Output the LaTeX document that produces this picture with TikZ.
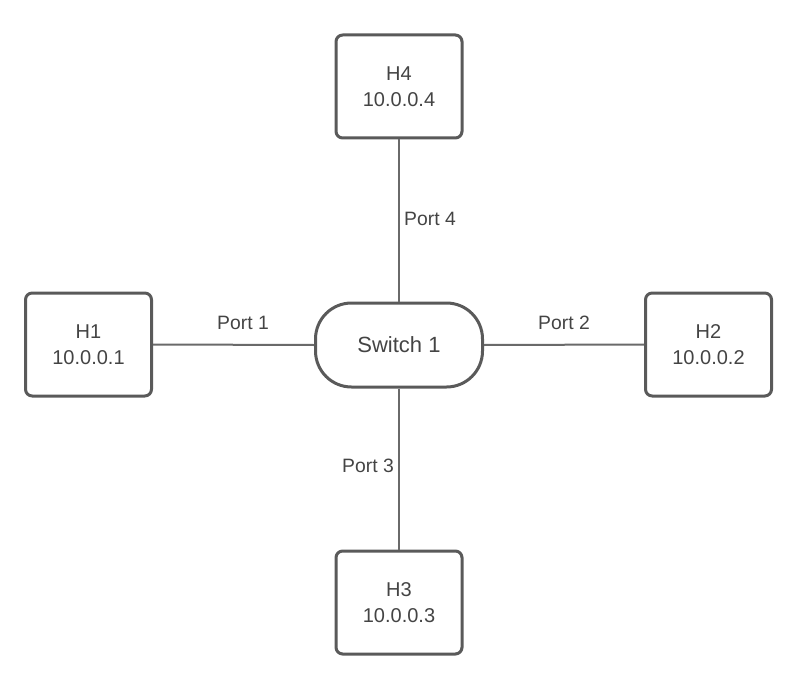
\documentclass[tikz,border=0pt]{standalone}
\usepackage{fontspec}
\setmainfont{Liberation Sans}
\definecolor{edgegray}{HTML}{5A5A5A}
\definecolor{linkgray}{HTML}{6A6A6A}
\definecolor{txtgray}{HTML}{444444}
\begin{document}
\begin{tikzpicture}[x=0.75pt,y=-0.75pt,
  host/.style={draw=edgegray, line width=2.25pt, rounded corners=5pt,
    minimum width=94.5pt, minimum height=77.25pt, align=center,
    font=\fontsize{15pt}{19.5pt}\selectfont, text=txtgray, fill=white},
  switchbox/.style={draw=edgegray, line width=2.25pt, rounded corners=27pt,
    minimum width=125.25pt, minimum height=63pt,
    font=\fontsize{16.5pt}{20pt}\selectfont, text=txtgray, fill=white},
  link/.style={draw=linkgray, line width=1.5pt},
  portlabel/.style={font=\fontsize{14.5pt}{17pt}\selectfont, text=txtgray, inner sep=0pt}]
  \useasboundingbox (0,0) rectangle (795,684);

  % switch and hosts
  \node[switchbox] (sw) at (399,345) {Switch 1};
  \node[host] (h4) at (399,86.5) {H4\\10.0.0.4};
  \node[host] (h1) at (88.5,344.5) {H1\\10.0.0.1};
  \node[host] (h2) at (708.5,344.5) {H2\\10.0.0.2};
  \node[host] (h3) at (399,602.5) {H3\\10.0.0.3};

  % links
  \draw[link] (h1.east) -- (sw.west);
  \draw[link] (sw.east) -- (h2.west);
  \draw[link] (h4.south) -- (sw.north);
  \draw[link] (sw.south) -- (h3.north);

  % port labels
  \node[portlabel] (p1) at (243,323) {Port 1};
  \node[portlabel] (p2) at (564,323) {Port 2};
  \node[portlabel] (p3) at (368,466) {Port 3};
  \node[portlabel] (p4) at (430,219) {Port 4};
\end{tikzpicture}
\end{document}
